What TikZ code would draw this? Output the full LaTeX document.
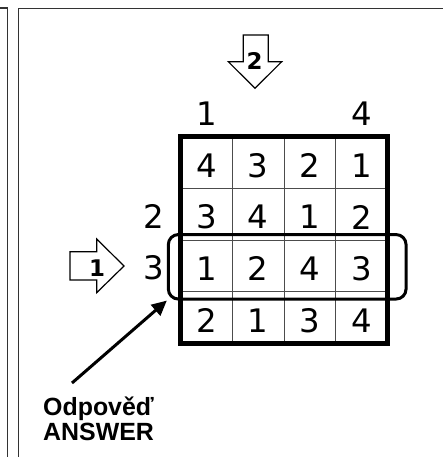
\documentclass[tikz,border=0pt]{standalone}
\usepackage{fontspec}
\setmainfont{DejaVu Sans}
\newfontfamily\answerfont{Liberation Sans}
\usetikzlibrary{positioning, arrows.meta, calc}

\begin{document}
\begin{tikzpicture}[
			x=1bp,
			y=-1bp,
			frame/.style={
				draw=black!80,
				line width=1.4bp
			},
			thin line/.style={
				draw=black!70,
				line width=1bp
			},
			digit/.style={
				font=\fontsize{32.5}{33}\selectfont,
				inner sep=0pt
			},
			hollow/.style={
				draw=black,
				line width=1.2bp,
				line join=miter,
				fill=white
			},
			tag/.style={
				font=\bfseries\fontsize{23}{23}\selectfont,
				inner sep=0pt
			},
			pointer/.style={
				draw=black,
				line width=3bp,
				-{Triangle[length=15bp,width=14bp]}
			}
			]
			\useasboundingbox (0,0) rectangle (443,457);
			% Frames
			\draw[frame] (0,8) -- (7.5,8) -- (7.5,457);
			\draw[frame] (443,8.5) -- (18.5,8.5) -- (18.5,457);
			
			% Grid
			\foreach \i in {1,2,3} {
				\draw[thin line] (180.5+51.75*\i,136.5) -- ++(0,207);
				\draw[thin line] (180.5,136.5+51.75*\i) -- ++(207,0);
			}
			\draw[line width=4.5bp] (180.5,136.5) rectangle (387.5,343.5);
			
			% Cells
			\foreach \row [count=\r] in {{4,3,2,1},{3,4,1,2},{1,2,4,3},{2,1,3,4}} {
				\foreach \v [count=\c] in \row
					\node[digit] (c\r\c) at (206.4+51.75*\c-51.75, 165.4+51.75*\r-51.75) {\v};
			}
			
			% Clues
			\node[digit] (top1) at (206.4,113.4) {1};
			\node[digit] (top4) at (361.6,113.4) {4};
			\node[digit] (left2) at (154,216.1) {2};
			\node[digit] (left3) at (154,267.9) {3};
			
			% Highlighted row
			\node[draw, line width=3bp, rounded corners=10bp,
				minimum width=237.7bp, minimum height=64.5bp, inner sep=0pt]
				(hl) at (287.2,266.8) {};
			
			% Hollow arrows
			\draw[hollow] (70,251.7) -- (96.7,251.7) -- (96.7,239) -- (124,266)
				-- (96.7,292.7) -- (96.7,280) -- (70,280) -- cycle;
			\node[tag] (num1) at (97,268.5) {1};
			\draw[hollow] (243.3,35) -- (268.3,35) -- (268.3,61.7) -- (281.7,61.7)
				-- (255,88.3) -- (228.3,61.7) -- (243.3,61.7) -- cycle;
			\node[tag] (num2) at (254.5,61) {2};
			
			% Answer
			\node[font=\answerfont\bfseries\fontsize{25}{25}\selectfont,
				align=left, inner sep=0pt, anchor=base west]
				(answer) at (43,440) {Odpověď\\ANSWER};
			\coordinate (tail) at (72,383);
			\draw[pointer] (tail) -- (hl.south west);
		\end{tikzpicture}
\end{document}
